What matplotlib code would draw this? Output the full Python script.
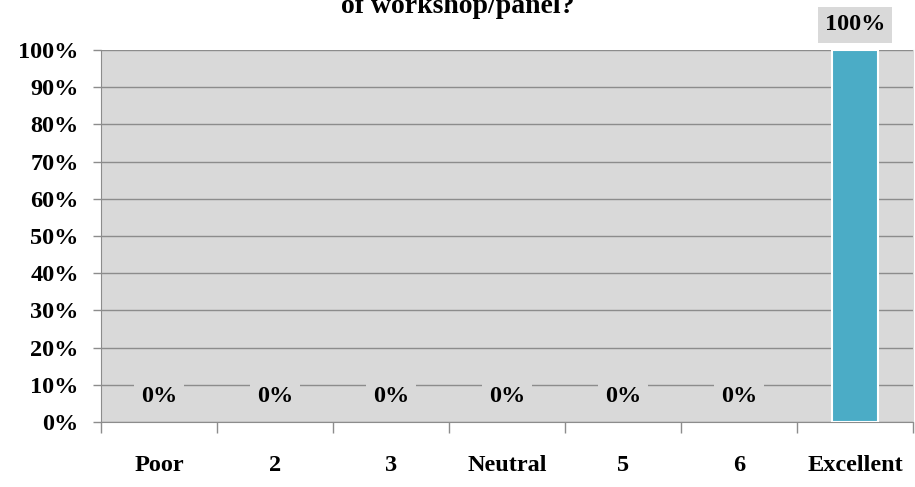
import numpy as np
import matplotlib.pyplot as plt
from matplotlib.ticker import PercentFormatter

categories = ['Poor', '2', '3', 'Neutral', '5', '6', 'Excellent']
values = [0, 0, 0, 0, 0, 0, 100]
title_text = "of workshop/panel?"

plt.rcParams['font.family'] = ['Liberation Serif', 'DejaVu Serif']
plt.rcParams['font.weight'] = 'bold'
fs = 17.5

fig = plt.figure(figsize=(9.15, 4.87), dpi=100)
ax = fig.add_axes([101 / 915, 1 - 422 / 487, 812 / 915, 372 / 487])
ax.set_facecolor('#d9d9d9')

x = np.arange(len(categories))
edge = ['white' if v > 0 else 'none' for v in values]
ax.bar(x, values, width=0.4, color='#4bacc6', edgecolor=edge, linewidth=1.5, zorder=3)

ax.set_xlim(-0.5, len(categories) - 0.5)
ax.set_ylim(0, 100)
ax.set_yticks(np.arange(0, 101, 10))
ax.yaxis.set_major_formatter(PercentFormatter(decimals=0))
ax.yaxis.grid(True, color='#8c8c8c', linewidth=1, zorder=1)
ax.set_axisbelow(True)

# category boundary ticks on x axis
ax.set_xticks(np.arange(-0.5, len(categories), 1))
ax.set_xticklabels([])
ax.set_xticks(x, minor=True)
ax.set_xticklabels(categories, minor=True, fontsize=fs, fontweight='bold')
ax.tick_params(axis='x', which='minor', length=0, pad=24)
ax.tick_params(axis='x', which='major', length=8, color='#8c8c8c', width=1)
ax.tick_params(axis='y', length=6, color='#8c8c8c', width=1, labelsize=fs, pad=10)
for lab in ax.get_yticklabels():
    lab.set_fontweight('bold')

ax.spines['top'].set_visible(False)
ax.spines['left'].set_color('#8c8c8c')
ax.spines['bottom'].set_color('#8c8c8c')
ax.spines['right'].set_color('#d9d9d9')

for xi, v in zip(x, values):
    ax.annotate(f"{v}%", (xi, v), xytext=(0, 25), textcoords='offset pixels',
                ha='center', va='center', fontsize=fs, fontweight='bold', annotation_clip=False,
                bbox=dict(boxstyle='square,pad=0.3', facecolor='#d9d9d9', edgecolor='none'), zorder=4)

# title is partly cut off at the top in the original
fig.text(0.5, 1 - 13 / 487, title_text, ha='center', va='baseline', fontsize=20, fontweight='bold')

fig.savefig('out.png', dpi=100)
